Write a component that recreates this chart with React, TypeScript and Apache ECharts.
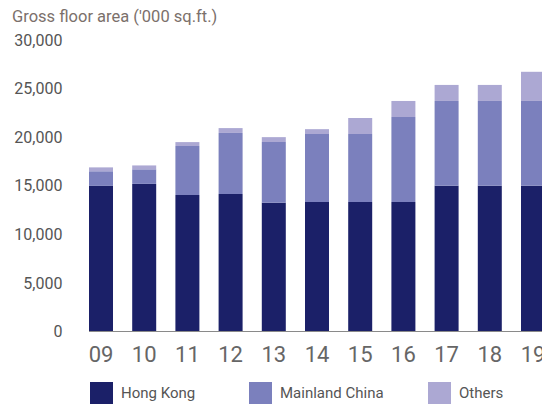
import React, { useEffect, useRef } from "react";
import * as echarts from "echarts";

const categories = ["09", "10", "11", "12", "13", "14", "15", "16", "17", "18", "19"];
const hongKong = [15000, 15200, 14050, 14150, 13250, 13350, 13350, 13350, 15000, 15000, 15000];
const mainlandChina = [1500, 1500, 5050, 6290, 6260, 6980, 6980, 8730, 8730, 8730, 8730];
const others = [400, 400, 400, 500, 500, 500, 1650, 1650, 1650, 1650, 3000];

const FONT = "Roboto, 'Noto Sans', sans-serif";
const C_HK = "#1b2068";
const C_MC = "#7b80bd";
const C_OT = "#aca8d3";
const BAR_W = 24;

export default function App() {
  const ref = useRef<HTMLDivElement>(null);
  useEffect(() => {
    if (!ref.current) return;
    const chart = echarts.init(ref.current, null, { renderer: "svg" });
    const legendBase = {
      top: 382,
      itemWidth: 23,
      itemHeight: 22,
      icon: "rect",
      textStyle: { fontFamily: FONT, fontSize: 15, color: "#555", padding: [0, 0, 0, 3] },
      padding: 0,
    };
    chart.setOption({
      animation: false,
      textStyle: { fontFamily: FONT },
      title: {
        text: "Gross floor area ('000 sq.ft.)",
        left: 12,
        top: 8,
        padding: 0,
        textStyle: { fontFamily: FONT, fontSize: 16.5, fontWeight: "normal", color: "#7b706b" },
      },
      legend: [
        { ...legendBase, left: 90, data: ["Hong Kong"] },
        { ...legendBase, left: 249, data: ["Mainland China"] },
        { ...legendBase, left: 428, data: ["Others"] },
      ],
      grid: {
        left: 79.4,
        width: 475.2,
        top: 40,
        bottom: 72.3,
        containLabel: false,
        outerBoundsMode: "none",
      },
      xAxis: {
        type: "category",
        data: categories,
        axisLine: { show: false },
        axisTick: { show: false },
        axisLabel: { fontSize: 22, color: "#666", margin: 12, fontFamily: FONT },
      },
      yAxis: {
        type: "value",
        min: 0,
        max: 30000,
        interval: 5000,
        splitLine: { show: false },
        axisLine: { show: false },
        axisTick: { show: false },
        axisLabel: {
          fontSize: 16,
          color: "#555",
          margin: 17,
          fontFamily: FONT,
          formatter: (v: number) => v.toLocaleString("en-US"),
        },
      },
      series: [
        { name: "Hong Kong", type: "bar", stack: "gfa", data: hongKong, barWidth: BAR_W, itemStyle: { color: C_HK } },
        { name: "Mainland China", type: "bar", stack: "gfa", data: mainlandChina, barWidth: BAR_W, itemStyle: { color: C_MC } },
        { name: "Others", type: "bar", stack: "gfa", data: others, barWidth: BAR_W, itemStyle: { color: C_OT } },
      ],
    });
    const x0 = (chart.convertToPixel({ xAxisIndex: 0 }, categories[0]) as number) - BAR_W / 2;
    const y0 = Math.round(chart.convertToPixel({ yAxisIndex: 0 }, 0) as number) - 0.5;
    chart.setOption({
      graphic: [
        {
          type: "line",
          shape: { x1: x0, y1: y0, x2: 542, y2: y0 },
          style: { stroke: "#8a8a8a", lineWidth: 1 },
          z: 10,
        },
      ],
    });
    return () => chart.dispose();
  }, []);
  return (
    <div
      ref={ref}
      style={{ position: "absolute", left: 0, top: 0, width: 542, height: 404 }}
    />
  );
}
